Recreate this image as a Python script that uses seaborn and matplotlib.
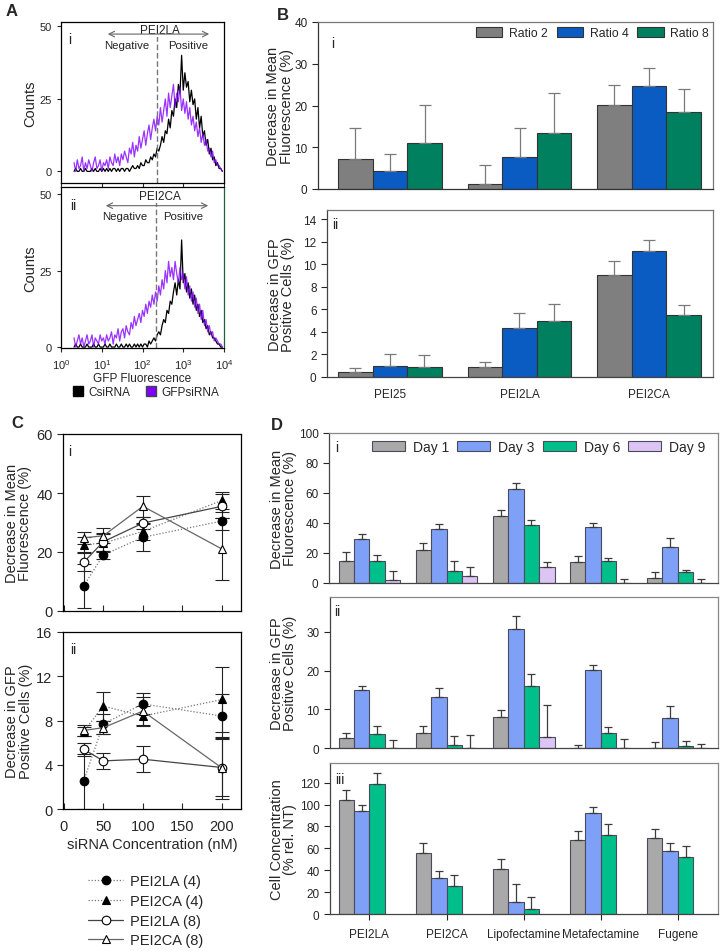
import numpy as np
import pandas as pd
import matplotlib
matplotlib.use("Agg")
import matplotlib.pyplot as plt
import seaborn as sns
from matplotlib.lines import Line2D
from matplotlib.patches import Patch
from matplotlib.ticker import NullLocator

W, H = 721, 953

# ---- Panel A: flow cytometry histograms, counts per log10 bin ----
a_log_start, a_log_step = 0.32, 0.04
pei2la_csirna = [0, 1, 0, 0, 1, 0, 0, 1, 0, 0,
                 0, 1, 0, 1, 0, 0, 1, 0, 1, 0,
                 1, 0, 1, 0, 1, 1, 0, 1, 0, 1,
                 1, 0, 1, 1, 0, 1, 2, 1, 1, 2,
                 1, 3, 2, 2, 4, 3, 3, 5, 4, 6,
                 5, 8, 7, 9, 12, 10, 14, 13, 18, 15,
                 21, 19, 25, 22, 30, 27, 40, 28, 34, 29,
                 31, 24, 28, 23, 25, 18, 22, 15, 19, 12,
                 14, 9, 11, 6, 8, 4, 5, 2, 3, 1,
                 1, 0]
pei2la_gfpsirna = [3, 0, 4, 1, 2, 5, 0, 3, 1, 4,
                   2, 0, 3, 5, 1, 2, 4, 0, 3, 2,
                   4, 1, 5, 3, 2, 6, 3, 5, 2, 6,
                   4, 7, 5, 3, 8, 6, 10, 5, 9, 7,
                   12, 8, 11, 14, 9, 13, 16, 11, 15, 18,
                   14, 19, 16, 22, 17, 21, 25, 19, 27, 22,
                   26, 30, 22, 27, 24, 29, 21, 25, 20, 24,
                   18, 22, 16, 19, 14, 17, 12, 15, 10, 13,
                   9, 11, 7, 8, 5, 7, 3, 4, 2, 2,
                   1, 0]
pei2ca_csirna = [0, 1, 0, 0, 1, 0, 0, 0, 1, 0,
                 0, 0, 1, 0, 0, 1, 0, 0, 0, 1,
                 0, 0, 1, 0, 0, 0, 1, 0, 0, 1,
                 0, 0, 1, 0, 1, 0, 0, 1, 0, 1,
                 0, 1, 0, 1, 1, 0, 2, 1, 2, 3,
                 2, 4, 5, 4, 7, 9, 8, 12, 11, 15,
                 14, 18, 21, 17, 22, 19, 35, 21, 24, 18,
                 21, 16, 19, 14, 17, 12, 14, 10, 12, 8,
                 9, 6, 7, 4, 5, 3, 3, 2, 1, 1,
                 0, 0]
pei2ca_gfpsirna = [3, 0, 2, 4, 1, 3, 0, 2, 4, 1,
                   2, 4, 0, 3, 2, 1, 4, 2, 3, 1,
                   4, 2, 3, 5, 1, 4, 3, 6, 2, 5,
                   6, 3, 7, 5, 4, 8, 6, 10, 7, 9,
                   11, 8, 12, 10, 14, 11, 15, 13, 17, 14,
                   18, 15, 20, 17, 22, 19, 25, 21, 28, 23,
                   26, 22, 28, 24, 21, 26, 22, 24, 19, 23,
                   17, 20, 15, 18, 13, 16, 11, 14, 9, 12,
                   7, 9, 5, 7, 4, 5, 2, 3, 2, 1,
                   1, 0]

# ---- Panel B: polymer/siRNA ratios ----
b_groups = ["PEI25", "PEI2LA", "PEI2CA"]
b_ratios = ["Ratio 2", "Ratio 4", "Ratio 8"]
ratio2_fluor = [7.2, 1.2, 20.2]
ratio4_fluor = [4.3, 7.7, 24.7]
ratio8_fluor = [10.9, 13.3, 18.4]
ratio2_fluor_err = [7.5, 4.6, 4.7]
ratio4_fluor_err = [4.1, 6.8, 4.4]
ratio8_fluor_err = [9.3, 9.8, 5.5]
ratio2_gfp = [0.44, 0.86, 9.05]
ratio4_gfp = [0.98, 4.3, 11.15]
ratio8_gfp = [0.92, 5.0, 5.5]
ratio2_gfp_err = [0.36, 0.5, 1.2]
ratio4_gfp_err = [1.02, 1.4, 1.0]
ratio8_gfp_err = [1.0, 1.5, 0.9]

# ---- Panel C: siRNA concentration series ----
c_conc = [25, 50, 100, 200]
c_labels = ["PEI2LA (4)", "PEI2CA (4)", "PEI2LA (8)", "PEI2CA (8)"]
la4_fluor = [8.5, 19.0, 25.0, 30.5]
ca4_fluor = [22.5, 23.0, 27.0, 37.5]
la8_fluor = [16.5, 23.5, 29.8, 35.5]
ca8_fluor = [24.8, 25.5, 35.5, 21.0]
la4_fluor_err = [7.4, 1.5, 4.5, 3.0]
ca4_fluor_err = [2.5, 3.0, 3.0, 3.0]
la8_fluor_err = [3.0, 3.0, 2.0, 4.0]
ca8_fluor_err = [2.0, 2.5, 3.5, 10.6]
la4_gfp = [2.5, 7.7, 9.5, 8.4]
ca4_gfp = [7.0, 9.3, 8.4, 9.9]
la8_gfp = [5.4, 4.35, 4.5, 3.75]
ca8_gfp = [7.1, 7.35, 8.85, 3.7]
la4_gfp_err = [2.5, 0.9, 0.95, 2.0]
ca4_gfp_err = [0.4, 1.3, 0.9, 2.9]
la8_gfp_err = [0.6, 0.7, 1.15, 2.6]
ca8_gfp_err = [0.5, 0.6, 1.25, 2.8]

# ---- Panel D: time course by reagent ----
d_groups = ["PEI2LA", "PEI2CA", "Lipofectamine", "Metafectamine", "Fugene"]
d_days = ["Day 1", "Day 3", "Day 6", "Day 9"]
day1_fluor = [15.0, 22.3, 44.9, 13.9, 3.1]
day3_fluor = [29.3, 36.0, 63.0, 37.5, 23.7]
day6_fluor = [15.0, 7.8, 38.6, 14.7, 7.2]
day9_fluor = [1.8, 4.5, 11.0, 0.0, 0.0]
day1_fluor_err = [5.5, 4.7, 4.1, 3.8, 4.1]
day3_fluor_err = [3.3, 3.3, 4.0, 2.5, 6.3]
day6_fluor_err = [3.5, 6.9, 3.4, 2.3, 1.8]
day9_fluor_err = [6.0, 6.2, 2.9, 2.5, 2.5]
day1_gfp = [2.6, 3.9, 8.1, 0.1, 0.0]
day3_gfp = [15.0, 13.3, 30.7, 20.2, 7.7]
day6_gfp = [3.6, 0.8, 15.9, 3.8, 0.5]
day9_gfp = [0.0, 0.0, 2.8, 0.0, 0.0]
day1_gfp_err = [1.3, 1.7, 1.7, 0.6, 1.55]
day3_gfp_err = [1.0, 2.2, 3.4, 1.3, 3.1]
day6_gfp_err = [2.2, 2.3, 3.2, 1.5, 1.3]
day9_gfp_err = [2.0, 3.4, 8.3, 2.3, 1.1]
day1_cells = [104.4, 56.2, 41.2, 67.8, 69.6]
day3_cells = [94.4, 33.3, 11.0, 92.5, 57.7]
day6_cells = [119.0, 26.0, 4.3, 72.4, 52.2]
day1_cells_err = [9.2, 8.8, 9.2, 8.5, 7.7]
day3_cells_err = [5.1, 5.8, 16.5, 5.5, 7.0]
day6_cells_err = [10.0, 9.7, 11.0, 10.0, 10.1]

b_palette = {"Ratio 2": "#7f7f7f", "Ratio 4": "#0a5cc2", "Ratio 8": "#00805e"}
d_palette = {"Day 1": "#a9a9a9", "Day 3": "#7fa0f7", "Day 6": "#00bf8a", "Day 9": "#dcc4f5"}

sns.set_style("ticks")
plt.rcParams["font.family"] = ["Liberation Sans", "DejaVu Sans"]
plt.rcParams["mathtext.default"] = "regular"

fig = plt.figure(figsize=(W / 100, H / 100), dpi=100)


def add_ax(left, top, right, bottom):
    return fig.add_axes([left / W, 1 - bottom / H, (right - left) / W, (bottom - top) / H])


def fig_text(x, y, s, **kw):
    fig.text(x / W, 1 - y / H, s, ha="center", va="center", **kw)


def style_spines(ax, left="black", other="black", lw=0.9):
    for side in ["left", "bottom"]:
        ax.spines[side].set_color(left)
        ax.spines[side].set_linewidth(lw)
    for side in ["top", "right"]:
        ax.spines[side].set_visible(True)
        ax.spines[side].set_color(other)
        ax.spines[side].set_linewidth(lw)


def grouped_bars(ax, groups, levels, means, errs, palette, edge, err_color, capsize, n_slots):
    rows = []
    for lev, vals in zip(levels, means):
        for g, v in zip(groups, vals):
            rows.append({"group": g, "level": lev, "value": v})
    df = pd.DataFrame(rows)
    sns.barplot(data=df, x="group", y="value", hue="level", order=groups,
                hue_order=list(palette.keys()), palette=palette, edgecolor=edge,
                linewidth=0.8, errorbar=None, width=0.8, saturation=1,
                legend=False, ax=ax)
    for k, (vals, ev) in enumerate(zip(means, errs)):
        xs = np.arange(len(groups)) + (k - (n_slots - 1) / 2) * 0.8 / n_slots
        ax.errorbar(xs, vals, yerr=[np.zeros(len(vals)), ev], fmt="none",
                    ecolor=err_color, elinewidth=0.9, capsize=capsize, capthick=0.9, zorder=1)
    ax.set_xlabel("")
    ax.set_ylabel("")


# ---------------- Panel A ----------------
a_x = 10 ** (a_log_start + a_log_step * np.arange(len(pei2la_csirna)))
a_axes = [add_ax(61, 23, 224, 184), add_ax(61, 188, 224, 349)]
a_black = [pei2la_csirna, pei2ca_csirna]
a_purple = [pei2la_gfpsirna, pei2ca_gfpsirna]
a_names = ["PEI2LA", "PEI2CA"]
a_ylims = [(-4, 51.5), (-0.3, 52.3)]
a_gate = [10 ** 2.35, 10 ** 2.33]
a_text_y = [(0.95, 0.925, 0.857), (0.942, 0.884, 0.822)]
a_arrow_x = [(0.27, 0.926), (0.258, 0.92)]
a_word_x = [(0.405, 0.779), (0.393, 0.748)]
for k, ax in enumerate(a_axes):
    sns.lineplot(x=a_x, y=a_black[k], ax=ax, color="black", linewidth=0.9)
    sns.lineplot(x=a_x, y=a_purple[k], ax=ax, color="#8000ff", linewidth=0.9, alpha=0.8)
    ax.set_xscale("log")
    ax.set_xlim(1, 1e4)
    ax.set_ylim(*a_ylims[k])
    ax.set_yticks([0, 25, 50])
    ax.set_xticks([1, 10, 100, 1000, 10000])
    ax.xaxis.set_minor_locator(NullLocator())
    ax.tick_params(labelsize=8, length=3, width=0.8)
    ax.set_ylabel("Counts", fontsize=10.5)
    ax.yaxis.set_label_coords(-0.147, 0.5)
    ax.set_xlabel("")
    ax.axvline(a_gate[k], ymax=0.93, color="#777777", lw=1, dashes=(4, 2))
    ty, ay, wy = a_text_y[k]
    ax.text(0.607, ty, a_names[k], transform=ax.transAxes, fontsize=8.5,
            ha="center", va="center", color="#222222",
            bbox=dict(facecolor="white", edgecolor="none", pad=0.5))
    ax.annotate("", xy=(a_arrow_x[k][0], ay), xytext=(a_arrow_x[k][1], ay),
                xycoords="axes fraction",
                arrowprops=dict(arrowstyle="<->", color="#666666", lw=0.8))
    ax.text(a_word_x[k][0], wy, "Negative", transform=ax.transAxes, fontsize=8.2,
            ha="center", va="center", color="#222222")
    ax.text(a_word_x[k][1], wy, "Positive", transform=ax.transAxes, fontsize=8.2,
            ha="center", va="center", color="#222222")
    style_spines(ax)
a_axes[1].spines["right"].set_color("#1f5f3a")
a_axes[0].set_xticklabels([])
a_axes[1].set_xticklabels(["$10^{0}$", "$10^{1}$", "$10^{2}$", "$10^{3}$", "$10^{4}$"])
a_axes[1].set_xlabel("GFP Fluorescence", fontsize=8.5, labelpad=1)
fig.legend([Patch(facecolor="black", edgecolor="black"), Patch(facecolor="#8000ff", edgecolor="#444444")],
           ["CsiRNA", "GFPsiRNA"], loc="center left", bbox_to_anchor=(73 / W, 1 - 393 / H),
           ncol=2, frameon=False, fontsize=8.5, handlelength=0.85, handleheight=0.85,
           handletextpad=0.42, columnspacing=1.35, borderpad=0, borderaxespad=0)
fig_text(12, 12, "A", fontsize=12, fontweight="bold")
fig_text(70, 40, "i", fontsize=10)
fig_text(73, 206, "ii", fontsize=10)

# ---------------- Panel B ----------------
bax1 = add_ax(318, 23, 713, 190)
grouped_bars(bax1, b_groups, b_ratios, [ratio2_fluor, ratio4_fluor, ratio8_fluor],
             [ratio2_fluor_err, ratio4_fluor_err, ratio8_fluor_err],
             b_palette, "#333333", "#7a7a7a", 4.2, 3)
bax1.set_xlim(-0.556, 2.494)
bax1.set_ylim(0, 40)
bax1.set_yticks([0, 10, 20, 30, 40])
bax1.set_xticks([])
bax1.tick_params(labelsize=8.5, length=4, width=0.8)
bax1.set_ylabel("Decrease in Mean\nFluorescence (%)", fontsize=10.5, linespacing=0.95)
bax1.yaxis.set_label_coords(-0.061, 0.5)
style_spines(bax1, "#333333", "#777777")
bax1.legend([Patch(facecolor=c, edgecolor="#333333", lw=0.8) for c in b_palette.values()],
            b_ratios, loc="center left", bbox_to_anchor=(476 / W, 1 - 34 / H),
            bbox_transform=fig.transFigure, ncol=3, frameon=False, fontsize=8.8,
            handlelength=2.16, handleheight=0.96, handletextpad=0.56,
            columnspacing=0.7, borderpad=0, borderaxespad=0)

bax2 = add_ax(327, 211, 713, 378)
grouped_bars(bax2, b_groups, b_ratios, [ratio2_gfp, ratio4_gfp, ratio8_gfp],
             [ratio2_gfp_err, ratio4_gfp_err, ratio8_gfp_err],
             b_palette, "#333333", "#7a7a7a", 4.2, 3)
bax2.set_xlim(-0.486, 2.494)
bax2.set_ylim(0, 14.8)
bax2.set_yticks([0, 2, 4, 6, 8, 10, 12, 14])
bax2.tick_params(axis="y", labelsize=8.5, length=4, width=0.8)
bax2.tick_params(axis="x", labelsize=8.5, length=0, pad=8)
bax2.set_ylabel("Decrease in GFP\nPositive Cells (%)", fontsize=10.5, linespacing=0.95)
bax2.yaxis.set_label_coords(-0.083, 0.5)
style_spines(bax2, "#444444", "#777777")
fig_text(283, 16, "B", fontsize=12, fontweight="bold")
fig_text(333, 44, "i", fontsize=10)
fig_text(335, 225, "ii", fontsize=10)

# ---------------- Panel C ----------------
c_styles = [("o", "black", (0, (1, 1.5)), "#777777"),
            ("^", "black", (0, (1, 1.5)), "#777777"),
            ("o", "white", "-", "#444444"),
            ("^", "white", "-", "#666666")]
c_fluor = [la4_fluor, ca4_fluor, la8_fluor, ca8_fluor]
c_fluor_err = [la4_fluor_err, ca4_fluor_err, la8_fluor_err, ca8_fluor_err]
c_gfp = [la4_gfp, ca4_gfp, la8_gfp, ca8_gfp]
c_gfp_err = [la4_gfp_err, ca4_gfp_err, la8_gfp_err, ca8_gfp_err]

cax1 = add_ax(63, 435, 241, 612)
cax2 = add_ax(63, 633, 241, 810)
for ax, vals_list, err_list in [(cax1, c_fluor, c_fluor_err), (cax2, c_gfp, c_gfp_err)]:
    for vals, errs, (mk, face, ls, lc) in zip(vals_list, err_list, c_styles):
        ax.errorbar(c_conc, vals, yerr=errs, fmt="none", ecolor="#222222",
                    elinewidth=0.8, capsize=5, capthick=0.8, zorder=1)
        sns.lineplot(x=c_conc, y=vals, ax=ax, color=lc, linestyle=ls, linewidth=0.9,
                     marker=mk, markersize=6.2, markerfacecolor=face,
                     markeredgecolor="black", markeredgewidth=0.8, legend=False)
    ax.set_xlim(-1, 224)
    ax.set_xticks([0, 50, 100, 150, 200])
    ax.tick_params(axis="x", direction="in", length=4, width=0.8, labelsize=10.5, pad=7)
    ax.tick_params(axis="y", direction="out", length=4, width=0.8, labelsize=10.5)
    ax.set_xlabel("")
    style_spines(ax)
cax1.set_ylim(0, 60)
cax1.set_yticks([0, 20, 40, 60])
cax1.set_xticklabels([])
cax1.set_ylabel("Decrease in Mean\nFluorescence (%)", fontsize=10.5, linespacing=0.95)
cax1.yaxis.set_label_coords(-0.174, 0.5)
cax2.set_ylim(0, 16)
cax2.set_yticks([0, 4, 8, 12, 16])
cax2.set_ylabel("Decrease in GFP\nPositive Cells (%)", fontsize=10.5, linespacing=0.95)
cax2.yaxis.set_label_coords(-0.169, 0.5)
cax2.set_xlabel("siRNA Concentration (nM)", fontsize=10.5, labelpad=3)
c_handles = [Line2D([], [], color=lc, linestyle=ls, lw=0.9, marker=mk, markersize=6.2,
                    markerfacecolor=face, markeredgecolor="black", markeredgewidth=0.8)
             for mk, face, ls, lc in c_styles]
fig.legend(c_handles, c_labels, loc="upper left", bbox_to_anchor=(88 / W, 1 - 875 / H),
           frameon=False, fontsize=10.5, handlelength=2.4, handletextpad=0.48,
           labelspacing=0.4, borderpad=0, borderaxespad=0)
fig_text(17, 424, "C", fontsize=12, fontweight="bold")
fig_text(70, 452, "i", fontsize=10)
fig_text(73, 650, "ii", fontsize=10)

# ---------------- Panel D ----------------
dax1 = add_ax(329, 434, 718, 584)
grouped_bars(dax1, d_groups, d_days, [day1_fluor, day3_fluor, day6_fluor, day9_fluor],
             [day1_fluor_err, day3_fluor_err, day6_fluor_err, day9_fluor_err],
             d_palette, "#4a4a5a", "#3c3c3c", 3, 4)
dax1.set_xlim(-0.524, 4.52)
dax1.set_ylim(0, 100)
dax1.set_yticks([0, 20, 40, 60, 80, 100])
dax1.set_ylabel("Decrease in Mean\nFluorescence (%)", fontsize=10.5, linespacing=0.95)
dax1.yaxis.set_label_coords(-0.082, 0.5)
dax1.legend([Patch(facecolor=c, edgecolor="#4a4a5a", lw=0.8) for c in d_palette.values()],
            d_days, loc="center left", bbox_to_anchor=(372 / W, 1 - 448 / H),
            bbox_transform=fig.transFigure, ncol=4, frameon=False, fontsize=10,
            handlelength=2.37, handleheight=0.72, handletextpad=0.58,
            columnspacing=0.58, borderpad=0, borderaxespad=0)

dax2 = add_ax(330, 598, 718, 749)
grouped_bars(dax2, d_groups, d_days, [day1_gfp, day3_gfp, day6_gfp, day9_gfp],
             [day1_gfp_err, day3_gfp_err, day6_gfp_err, day9_gfp_err],
             d_palette, "#4a4a5a", "#3c3c3c", 3, 4)
dax2.set_xlim(-0.511, 4.52)
dax2.set_ylim(0, 39)
dax2.set_yticks([0, 10, 20, 30])
dax2.set_ylabel("Decrease in GFP\nPositive Cells (%)", fontsize=10.5, linespacing=0.95)
dax2.yaxis.set_label_coords(-0.085, 0.5)

dax3 = add_ax(330, 764, 718, 915)
grouped_bars(dax3, d_groups, d_days[:3], [day1_cells, day3_cells, day6_cells],
             [day1_cells_err, day3_cells_err, day6_cells_err],
             d_palette, "#4a4a5a", "#3c3c3c", 3, 4)
dax3.set_xlim(-0.511, 4.52)
dax3.set_ylim(0, 138)
dax3.set_yticks([0, 20, 40, 60, 80, 100, 120])
dax3.set_ylabel("Cell Concentration\n(% rel. NT)", fontsize=10.5, linespacing=0.95)
dax3.yaxis.set_label_coords(-0.085, 0.5)

for ax in [dax1, dax2]:
    ax.tick_params(axis="x", direction="in", length=4, width=0.8, labelbottom=False)
for ax in [dax1, dax2, dax3]:
    ax.tick_params(axis="y", direction="out", length=4, width=0.8, labelsize=8.5)
    style_spines(ax, "#444444", "#888888")
dax3.tick_params(axis="x", direction="out", length=4, width=0.8, labelsize=8.5, pad=6)
fig_text(277, 426, "D", fontsize=12, fontweight="bold")
fig_text(337, 448, "i", fontsize=10)
fig_text(337, 612, "ii", fontsize=10)
fig_text(340, 780, "iii", fontsize=10)

fig.savefig("out.png", dpi=100)
